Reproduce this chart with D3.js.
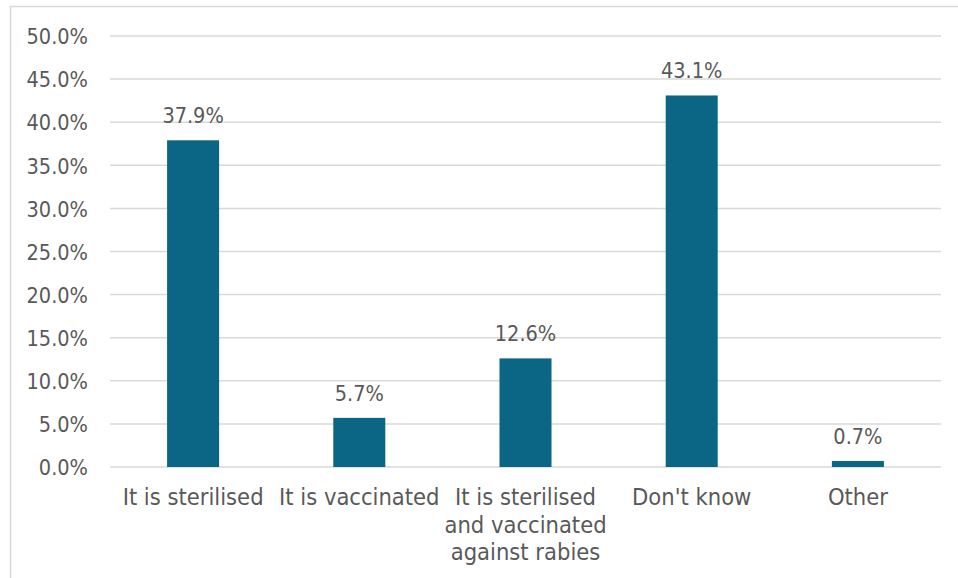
<!DOCTYPE html>
<html>
<head>
<meta charset="utf-8">
<script src="https://cdn.jsdelivr.net/npm/d3@7"></script>
<style>
  html, body { margin: 0; padding: 0; background: #ffffff; }
  svg { display: block; }
  text { font-family: "DejaVu Sans Condensed", "DejaVu Sans", sans-serif; font-stretch: condensed; fill: #595959; }
</style>
</head>
<body>
<svg id="chart" width="958" height="578"></svg>
<script>
// Responses: what has been done for the animal
const categories = [
  "It is sterilised",
  "It is vaccinated",
  "It is sterilised and vaccinated against rabies",
  "Don't know",
  "Other"
];
const values = [37.9, 5.7, 12.6, 43.1, 0.7];
const yTicks = [0, 5, 10, 15, 20, 25, 30, 35, 40, 45, 50];

const W = 958, H = 578;
const margin = { left: 110, right: 17, top: 36, bottom: 111 };
const FONT = '"DejaVu Sans Condensed", "DejaVu Sans", sans-serif';

const svg = d3.select("#chart");

// Chart area frame (light grey, runs past the right and bottom edges)
svg.append("rect")
  .attr("x", 10.5).attr("y", 6.5)
  .attr("width", 1000).attr("height", 1000)
  .attr("fill", "none")
  .attr("stroke", "#d9d9d9")
  .attr("stroke-width", 1.5);

const x = d3.scaleBand()
  .domain(categories)
  .range([margin.left, W - margin.right])
  .paddingInner(0.687)
  .paddingOuter(0.687 / 2);

const y = d3.scaleLinear()
  .domain([0, 50])
  .range([H - margin.bottom, margin.top]);

// Horizontal gridlines
svg.append("g")
  .selectAll("line")
  .data(yTicks)
  .join("line")
  .attr("x1", margin.left)
  .attr("x2", W - margin.right)
  .attr("y1", d => y(d))
  .attr("y2", d => y(d))
  .attr("stroke", "#d9d9d9")
  .attr("stroke-width", 1.5);

// Y axis labels
const yAxis = d3.axisLeft(y)
  .tickValues(yTicks)
  .tickFormat(d => d.toFixed(1) + "%")
  .tickSize(0)
  .tickPadding(22);

const yg = svg.append("g")
  .attr("transform", `translate(${margin.left},0)`)
  .call(yAxis);
yg.select(".domain").remove();
yg.selectAll("text")
  .attr("font-size", 21.5)
  .attr("font-family", FONT)
  .attr("fill", "#595959")
  .attr("dy", "0.36em");

// Bars
svg.append("g")
  .selectAll("rect")
  .data(values)
  .join("rect")
  .attr("x", (d, i) => x(categories[i]))
  .attr("width", x.bandwidth())
  .attr("y", d => y(d))
  .attr("height", d => y(0) - y(d))
  .attr("fill", "#0b6584");

// Value labels above bars
svg.append("g")
  .selectAll("text")
  .data(values)
  .join("text")
  .attr("x", (d, i) => x(categories[i]) + x.bandwidth() / 2)
  .attr("y", d => y(d) - 17)
  .attr("text-anchor", "middle")
  .attr("font-size", 21.5)
  .text(d => d.toFixed(1) + "%");

// Category labels, wrapped to the band step
const xAxis = d3.axisBottom(x).tickSize(0).tickPadding(0);
const xg = svg.append("g")
  .attr("transform", `translate(0,${y(0)})`)
  .call(xAxis);
xg.select(".domain").remove();
xg.selectAll("text")
  .attr("font-size", 23.5)
  .attr("font-family", FONT)
  .attr("fill", "#595959")
  .attr("y", 0)
  .attr("dy", null)
  .each(function (d) {
    const t = d3.select(this);
    const words = d.split(" ");
    const maxW = x.step();
    t.text(null);
    const lines = [];
    let line = [];
    const probe = t.append("tspan");
    words.forEach(w => {
      const test = line.concat(w).join(" ");
      probe.text(test);
      if (probe.node().getComputedTextLength() > maxW && line.length) {
        lines.push(line.join(" "));
        line = [w];
      } else {
        line.push(w);
      }
    });
    lines.push(line.join(" "));
    probe.remove();
    lines.forEach((l, i) => {
      t.append("tspan")
        .attr("x", 0)
        .attr("y", 38 + i * 27.5)
        .text(l);
    });
  });
</script>
</body>
</html>
